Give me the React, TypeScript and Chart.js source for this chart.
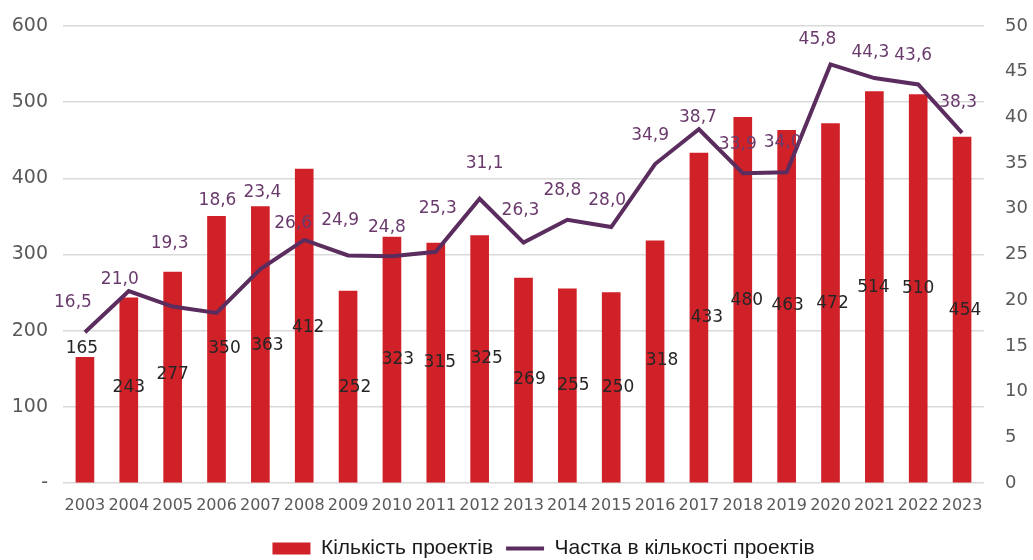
import React, { useEffect, useRef } from "react";
import { Chart, registerables } from "chart.js";

Chart.register(...registerables);

const years = ["2003","2004","2005","2006","2007","2008","2009","2010","2011","2012","2013","2014","2015","2016","2017","2018","2019","2020","2021","2022","2023"];
const projects = [165,243,277,350,363,412,252,323,315,325,269,255,250,318,433,480,463,472,514,510,454];
const share = [16.5,21.0,19.3,18.6,23.4,26.6,24.9,24.8,25.3,31.1,26.3,28.8,28.0,34.9,38.7,33.9,34.0,45.8,44.3,43.6,38.3];

// where each value label sits, in the units of its own axis
const barLabelAt = [176,125,143,176,180,204,125,162,158,163,136,128,125,161,217,239,233,236,257,255,226];
const barLabelDx = [-3,0,0,8,7,4,7,6,4,7,6,6,7,7,8,4,1,2,-1,0,3];
const shareLabelAt = [19.7,22.3,26.2,30.9,31.8,28.4,28.7,28.0,30.0,35.0,29.8,32.0,30.9,38.0,40.0,37.0,37.2,48.5,47.1,46.8,41.6];
const shareLabelDx = [-12,-9,-3,1,2,-11,-8,-5,2,5,-3,-5,-4,-5,-1,-5,-4,-13,-4,-5,-4];

const leftTicks = [0,100,200,300,400,500,600];

const barName = "Кількість проектів";
const lineName = "Частка в кількості проектів";

const fmt = (v: number) => v.toFixed(1).replace(".", ",");

const labelPlugin = {
  id: "valueLabels",
  afterLayout(chart: any) {
    if (chart.legend) {
      chart.legend.left += 27;
      chart.legend.right += 27;
    }
  },
  afterDatasetsDraw(chart: any) {
    const ctx = chart.ctx;
    const x = chart.scales.x;
    const y = chart.scales.y;
    const y1 = chart.scales.y1;
    ctx.save();
    ctx.textAlign = "center";
    ctx.textBaseline = "middle";
    ctx.font = "17px 'DejaVu Sans'";
    ctx.fillStyle = "#262626";
    projects.forEach((v, i) => {
      ctx.fillText(String(v), x.getPixelForValue(i) + barLabelDx[i], y.getPixelForValue(barLabelAt[i]));
    });
    ctx.fillStyle = "#6a3a6d";
    share.forEach((v, i) => {
      ctx.fillText(fmt(v), x.getPixelForValue(i) + shareLabelDx[i], y1.getPixelForValue(shareLabelAt[i]));
    });
    ctx.restore();
  },
};

export default function App() {
  const ref = useRef<HTMLCanvasElement>(null);
  useEffect(() => {
    if (!ref.current) return;
    const chart = new Chart(ref.current, {
      type: "bar",
      data: {
        labels: years,
        datasets: [
          {
            type: "bar",
            label: barName,
            data: projects,
            backgroundColor: "#d12128",
            borderWidth: 0,
            barThickness: 18,
            yAxisID: "y",
            order: 2,
          },
          {
            type: "line",
            label: lineName,
            data: share,
            borderColor: "#5b2c5e",
            backgroundColor: "#5b2c5e",
            borderWidth: 4,
            pointRadius: 0,
            tension: 0,
            yAxisID: "y1",
            order: 1,
          },
        ] as any,
      },
      options: {
        animation: false,
        responsive: true,
        maintainAspectRatio: false,
        layout: { padding: { top: 0, right: 0, bottom: 0, left: 0 } },
        plugins: {
          tooltip: { enabled: false },
          legend: {
            position: "bottom",
            labels: {
              usePointStyle: true,
              pointStyleWidth: 38,
              boxHeight: 12,
              padding: 13,
              color: "#1a1a1a",
              font: { family: "'Liberation Sans Narrow', 'Liberation Sans'", size: 21 },
              sort: (a: any, b: any) => a.datasetIndex - b.datasetIndex,
              generateLabels: (chart: any) =>
                chart.data.datasets.map((d: any, i: number) => ({
                  text: d.label,
                  fillStyle: d.backgroundColor,
                  strokeStyle: d.type === "line" ? d.borderColor : d.backgroundColor,
                  lineWidth: d.type === "line" ? 4 : 0,
                  pointStyle: d.type === "line" ? "line" : "rect",
                  datasetIndex: i,
                  hidden: false,
                  fontColor: "#1a1a1a",
                })),
            },
          },
        },
        scales: {
          x: {
            grid: { display: false, drawTicks: false },
            border: { display: false },
            ticks: {
              color: "#595959",
              font: { family: "'DejaVu Sans'", size: 16 },
              padding: 13,
              maxRotation: 0,
              autoSkip: false,
            },
            afterFit: (s: any) => { s.height = 42; },
          },
          y: {
            position: "left",
            min: 0,
            max: 600,
            afterBuildTicks: (s: any) => { s.ticks = leftTicks.map((v) => ({ value: v })); },
            grid: { color: "#d9d9d9", lineWidth: 1.5, drawTicks: false },
            border: { display: false },
            ticks: {
              color: "#595959",
              font: { family: "'DejaVu Sans'", size: 19 },
              padding: 15,
              callback: (v: any) => (v === 0 ? "-" : String(v)),
            },
            afterFit: (s: any) => { s.width = 63; s.paddingTop = 26; s.paddingBottom = 0; },
          },
          y1: {
            position: "right",
            min: 0,
            max: 50,
            grid: { display: false, drawTicks: false },
            border: { display: false },
            ticks: {
              stepSize: 5,
              color: "#595959",
              font: { family: "'DejaVu Sans'", size: 18 },
              padding: 21,
            },
            afterFit: (s: any) => { s.width = 49; s.paddingTop = 0; s.paddingBottom = 0; },
          },
        },
      },
      plugins: [labelPlugin],
    });
    return () => chart.destroy();
  }, []);
  return (
    <div style={{ position: "absolute", left: 0, top: 0, width: 1033, height: 560, overflow: "hidden", background: "#fff" }}>
      <div style={{ position: "relative", width: 1033, height: 569 }}>
        <canvas ref={ref} />
      </div>
    </div>
  );
}
